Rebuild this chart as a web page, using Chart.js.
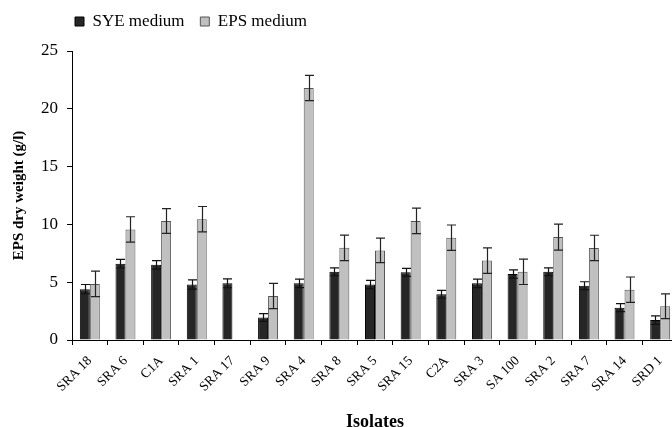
<!DOCTYPE html>
<html><head><meta charset="utf-8">
<script src="https://cdn.jsdelivr.net/npm/chart.js@4"></script>
<style>html,body{margin:0;padding:0;background:#fff;overflow:hidden}#wrap{width:672px;height:427px;overflow:hidden;position:relative}#c{position:absolute;left:0;top:0}</style>
</head><body><div id="wrap"><canvas id="c" width="678" height="427"></canvas></div>
<script>
const categories = ["SRA 18","SRA 6","C1A","SRA 1","SRA 17","SRA 9","SRA 4","SRA 8","SRA 5","SRA 15","C2A","SRA 3","SA 100","SRA 2","SRA 7","SRA 14","SRD 1"];
const syeValues = [4.4,6.6,6.5,4.8,4.9,1.95,4.9,5.9,4.8,5.85,3.95,4.9,5.7,5.9,4.7,2.8,1.72];
const syeErrors = [0.4,0.37,0.37,0.4,0.38,0.34,0.37,0.34,0.36,0.34,0.34,0.37,0.36,0.34,0.34,0.34,0.36];
const epsValues = [4.85,9.56,10.3,10.45,null,3.8,21.8,7.97,7.75,10.3,8.85,6.87,5.9,8.9,7.96,4.35,2.92];
const epsErrors = [1.1,1.1,1.07,1.1,null,1.09,1.1,1.1,1.06,1.1,1.1,1.1,1.1,1.12,1.1,1.1,1.07];
const yTicks = [0,5,10,15,20,25];

const errorBars = {
  id:'errorBars',
  afterDatasetsDraw(chart){
    const ctx = chart.ctx, ys = chart.scales.y;
    chart.data.datasets.forEach((ds,i)=>{
      const meta = chart.getDatasetMeta(i);
      meta.data.forEach((el,j)=>{
        const v = ds.data[j], e = ds.errors[j];
        if(v==null||e==null) return;
        const x = Math.round(el.x)+0.5, t = ys.getPixelForValue(v+e), b = ys.getPixelForValue(v-e);
        ctx.save();
        ctx.strokeStyle = ds.errColor; ctx.lineWidth = 1.2;
        ctx.beginPath();
        ctx.moveTo(x,t); ctx.lineTo(x,b);
        ctx.moveTo(x-4.5,t); ctx.lineTo(x+4.5,t);
        ctx.moveTo(x-4.5,b); ctx.lineTo(x+4.5,b);
        ctx.stroke(); ctx.restore();
      });
    });
  }
};

const legendGap = {
  id:'legendGap',
  beforeInit(chart){
    const lg = chart.legend;
    if(!lg) return;
    const orig = lg.fit;
    lg.fit = function(){ orig.call(this); this.height += 11; };
  }
};

new Chart(document.getElementById('c'),{
  type:'bar',
  data:{labels:categories,datasets:[
    {label:'SYE medium',data:syeValues,errors:syeErrors,errColor:'#111',backgroundColor:'#262626',borderColor:'#000',borderWidth:1,categoryPercentage:0.56,barPercentage:1.0},
    {label:'EPS medium',data:epsValues,errors:epsErrors,errColor:'#222',backgroundColor:'#c0c0c0',borderColor:'#555',borderWidth:1,categoryPercentage:0.56,barPercentage:1.0}
  ]},
  options:{
    responsive:false,devicePixelRatio:1,animation:false,
    layout:{padding:{left:2,right:0,top:10,bottom:0}},
    plugins:{
      tooltip:{enabled:false},
      legend:{position:'top',align:'start',fullSize:false,
        labels:{boxWidth:9,boxHeight:9,padding:3,color:'#000',font:{family:'Liberation Serif',size:17},
          generateLabels(chart){
            const items = Chart.defaults.plugins.legend.labels.generateLabels(chart);
            items.forEach((it,k)=>{ if(k===0) it.text = it.text + '   '; });
            return items;
          }}},
    },
    scales:{
      x:{
        afterFit(s){ s.height = 87; s.paddingRight = 0; s.paddingLeft = 0; },
        grid:{display:true,drawOnChartArea:false,drawTicks:true,tickLength:5,color:'#000',offset:true},
        border:{display:true,color:'#000'},
        ticks:{color:'#000',maxRotation:45,minRotation:45,autoSkip:false,font:{family:'Liberation Serif',size:13.5},padding:8},
        title:{display:true,text:'Isolates',color:'#000',font:{family:'Liberation Serif',size:18,weight:'bold',lineHeight:1},padding:{top:0,bottom:-4}}
      },
      y:{
        min:0,max:25,
        afterFit(s){ s.width = 70; },
        afterBuildTicks(s){s.ticks=yTicks.map(v=>({value:v}));},
        grid:{display:true,drawOnChartArea:false,drawTicks:true,tickLength:5,color:'#000'},
        border:{display:true,color:'#000'},
        ticks:{color:'#000',font:{family:'Liberation Serif',size:17},padding:9},
        title:{display:true,text:'EPS dry weight (g/l)',color:'#000',font:{family:'Liberation Serif',size:15,weight:'bold'},padding:{top:8,bottom:0}}
      }
    }
  },
  plugins:[errorBars, legendGap]
});
</script></body></html>
